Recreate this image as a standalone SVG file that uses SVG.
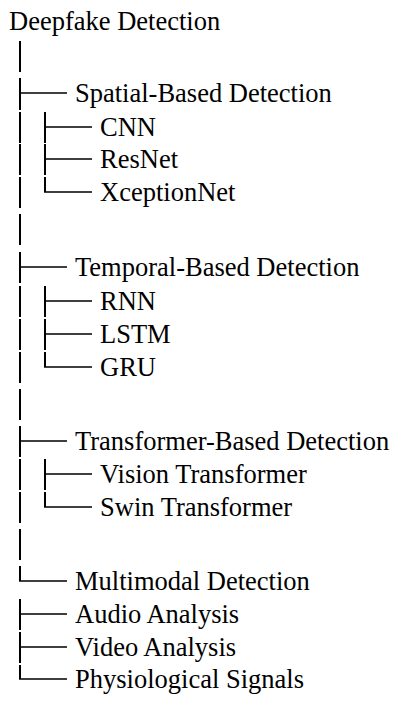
<svg xmlns="http://www.w3.org/2000/svg" width="393" height="707" viewBox="0 0 393 707">
  <style>
    text { font-family: "Liberation Serif", "Times New Roman", serif; font-size: 26.5px; fill: #000; }
    .v { stroke: #000; stroke-width: 2; fill: none; }
    .h { stroke: #000; stroke-width: 1.5; fill: none; }
  </style>
  <rect width="393" height="707" fill="#fff"/>

  <!-- tree connectors: trunk (x=20), branch stems (x=45), and elbows -->
  <g id="connectors">
    <!-- trunk, one segment per row -->
    <path class="v" d="M20 41V72 M20 78V110 M20 112V143 M20 144V175 M20 177V208 M20 214V245 M20 252V283 M20 286V317 M20 319V350 M20 352V383 M20 389V420 M20 426V457 M20 459V490 M20 492V523 M20 529V560 M20 566V581"/>
    <path class="v" d="M20 599V630 M20 632V663 M20 665V679"/>
    <!-- branch stems -->
    <path class="v" d="M45 112V143 M45 144V175 M45 177V192"/>
    <path class="v" d="M45 286V317 M45 319V350 M45 352V367"/>
    <path class="v" d="M45 459V490 M45 492V507"/>
    <!-- elbows, level 1 -->
    <path class="h" d="M19 93H67 M19 267H67 M19 441H67 M19 581H67 M19 614H67 M19 647H67 M19 679H67"/>
    <!-- elbows, level 2 -->
    <path class="h" d="M44 127H92 M44 159H92 M44 192H92 M44 301H92 M44 334H92 M44 367H92 M44 474H92 M44 507H92"/>
  </g>

  <g id="root"><text x="9" y="30">Deepfake Detection</text></g>

  <g id="spatial"><text x="75" y="102">Spatial-Based Detection</text></g>
  <g id="cnn"><text x="100" y="136">CNN</text></g>
  <g id="resnet"><text x="100" y="168">ResNet</text></g>
  <g id="xceptionnet"><text x="100" y="201">XceptionNet</text></g>

  <g id="temporal"><text x="75" y="276">Temporal-Based Detection</text></g>
  <g id="rnn"><text x="100" y="310">RNN</text></g>
  <g id="lstm"><text x="100" y="343">LSTM</text></g>
  <g id="gru"><text x="100" y="376">GRU</text></g>

  <g id="transformer"><text x="75" y="450">Transformer-Based Detection</text></g>
  <g id="vit"><text x="100" y="483">Vision Transformer</text></g>
  <g id="swin"><text x="100" y="516">Swin Transformer</text></g>

  <g id="multimodal"><text x="75" y="590">Multimodal Detection</text></g>
  <g id="audio"><text x="75" y="623">Audio Analysis</text></g>
  <g id="video"><text x="75" y="656">Video Analysis</text></g>
  <g id="physio"><text x="75" y="688">Physiological Signals</text></g>
</svg>
